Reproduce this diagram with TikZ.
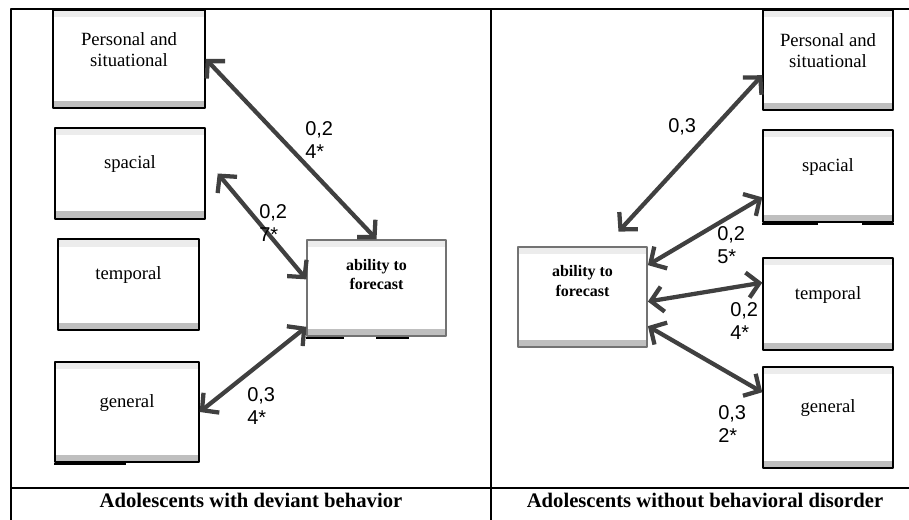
\documentclass[tikz,border=0pt]{standalone}
\usepackage{fontspec}
\setmainfont{Liberation Serif}
\newfontfamily\numfont{Liberation Sans}
\usetikzlibrary{arrows.meta}
\tikzset{
  factor/.style={draw, line width=1.1pt, fill=white, inner sep=0pt,
    path picture={
      \fill[gray!15] (path picture bounding box.north west) rectangle ([yshift=-5.5pt]path picture bounding box.north east);
      \fill[gray!50] (path picture bounding box.south west) rectangle ([yshift=5.5pt]path picture bounding box.south east);}},
  txt/.style={font=\fontsize{14}{16}\selectfont, align=center, yshift=7pt},
  abil/.style={font=\bfseries\fontsize{12}{14.5}\selectfont, align=center, yshift=10pt},
  link/.style={{Straight Barb[length=9pt,width=19pt]}-{Straight Barb[length=9pt,width=19pt]}, line width=3.2pt, draw=black!75},
  coef/.style={font=\numfont\fontsize{15}{17.5}\selectfont, align=left, anchor=north west, inner sep=0pt},
  caption/.style={font=\bfseries\fontsize{15.5}{18}\selectfont}
}
\begin{document}
\begin{tikzpicture}[x=0.75pt, y=-0.75pt, line join=round]
\useasboundingbox (0,0) rectangle (909,520);
% table
\draw[line width=1.3pt] (11,520) -- (11,9) -- (909,9);
\draw[line width=1.3pt] (491,9) -- (491,520);
\draw[line width=1.3pt] (11,488) -- (909,488);
\node[caption] (cap1) at (251,500) {Adolescents with deviant behavior};
\node[caption] (cap2) at (705,500) {Adolescents without behavioral disorder};

% left group
\node[factor, minimum width=114pt, minimum height=73.5pt, label={[txt]center:{Personal and\\situational}}] (per1) at (129,59) {};
\node[factor, minimum width=112.5pt, minimum height=68pt, label={[txt]center:spacial}] (sp1) at (130,173.5) {};
\node[factor, minimum width=106pt, minimum height=68pt, label={[txt]center:temporal}] (tm1) at (128.5,284.5) {};
\node[factor, minimum width=108pt, minimum height=75pt, label={[txt]center:general}] (gn1) at (127,412) {};
\node[factor, draw=black!55, minimum width=104pt, minimum height=72pt, label={[abil]center:{ability to\\forecast}}] (ab1) at (376.5,288) {};
\fill ([yshift=-2pt]gn1.south west) rectangle ([xshift=54pt]gn1.south west);
\fill ([yshift=-2pt]ab1.south west) rectangle ([xshift=28pt]ab1.south west);
\fill ([xshift=52pt,yshift=-2pt]ab1.south west) rectangle ([xshift=77pt]ab1.south west);

\draw[link] (per1.east) -- (ab1.north);
\draw[link] ([xshift=9pt]sp1.east) -- (ab1.173);
\draw[link] (gn1.east) -- (ab1.209);
\node[coef] (c1) at (305,121) {0,2\\4*};
\node[coef] (c2) at (259,204) {0,2\\7*};
\node[coef] (c3) at (247,387) {0,3\\4*};

% right group
\node[factor, minimum width=97.5pt, minimum height=75pt, label={[txt]center:{Personal and\\situational}}] (per2) at (828,60) {};
\node[factor, minimum width=97.5pt, minimum height=69pt, label={[txt]center:spacial}] (sp2) at (828,176) {};
\node[factor, minimum width=97.5pt, minimum height=69pt, label={[txt]center:temporal}] (tm2) at (828,304) {};
\node[factor, minimum width=97.5pt, minimum height=76pt, label={[txt]center:general}] (gn2) at (828,417.5) {};
\node[factor, draw=black!55, minimum width=97pt, minimum height=75pt, label={[abil, yshift=2pt]center:{ability to\\forecast}}] (ab2) at (582.5,297) {};
\fill ([yshift=-2pt]sp2.south west) rectangle ([xshift=42pt]sp2.south west);
\fill ([xshift=75pt,yshift=-2pt]sp2.south west) rectangle (sp2.south east);

\draw[link] (per2.193) -- ([xshift=27pt,yshift=11pt]ab2.north);
\draw[link] (sp2.198) -- (ab2.26);
\draw[link] (tm2.162) -- (ab2.356);
\draw[link] (ab2.336) -- (gn2.159);
\node[coef] (d1) at (668,118) {0,3};
\node[coef] (d2) at (717,226) {0,2\\5*};
\node[coef] (d3) at (730,302) {0,2\\4*};
\node[coef] (d4) at (718,405) {0,3\\2*};
\end{tikzpicture}
\end{document}
